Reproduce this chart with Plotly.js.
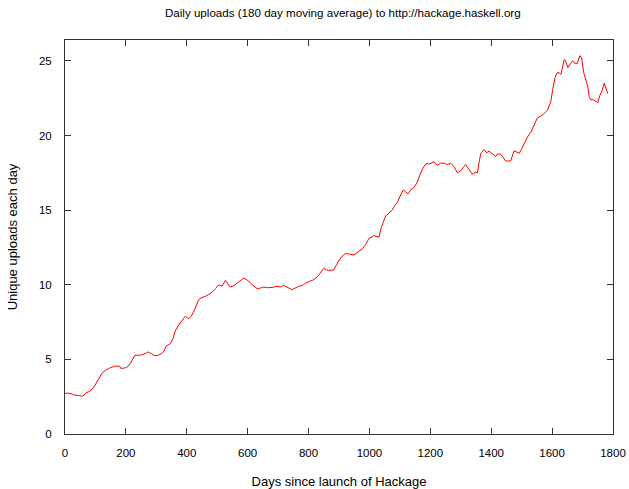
<!DOCTYPE html>
<html>
<head>
<meta charset="utf-8">
<script src="https://cdn.plot.ly/plotly-3.0.1.min.js"></script>
<style>html,body{margin:0;padding:0;background:#fff;}#chart{width:629px;height:489px;}</style>
</head>
<body>
<div id="chart"></div>
<script>
const days = [0,10,20,33,45,55,62,69,80,88,99,110,121,132,143,155,165,179,183,195,203,214,222,230,245,252,265,274,283,291,300,307,318,324,332,346,355,362,372,385,395,406,415,425,439,450,461,472,483,495,505,516,527,535,543,555,565,575,587,596,603,615,631,642,653,665,680,697,708,718,730,746,758,768,780,790,801,817,830,839,850,858,866,883,899,910,921,935,949,963,976,988,998,1008,1015,1031,1040,1053,1063,1075,1083,1091,1100,1111,1120,1127,1137,1146,1155,1163,1174,1185,1198,1212,1223,1234,1245,1256,1267,1278,1289,1300,1316,1328,1338,1348,1355,1360,1366,1376,1385,1393,1405,1415,1421,1431,1440,1448,1456,1464,1475,1483,1492,1500,1508,1519,1530,1541,1552,1562,1573,1585,1596,1602,1610,1616,1623,1629,1635,1640,1646,1652,1660,1667,1675,1682,1691,1697,1704,1710,1717,1722,1727,1735,1742,1750,1757,1764,1771,1776,1783];
const uploads = [2.72,2.74,2.70,2.60,2.58,2.54,2.60,2.76,2.85,2.99,3.28,3.70,4.06,4.25,4.39,4.48,4.55,4.55,4.40,4.42,4.46,4.72,5.05,5.28,5.28,5.30,5.40,5.50,5.38,5.28,5.25,5.28,5.40,5.50,5.88,6.06,6.40,6.90,7.25,7.60,7.89,7.73,7.90,8.30,9.00,9.15,9.22,9.35,9.50,9.75,10.0,9.90,10.3,10.05,9.85,9.95,10.10,10.25,10.45,10.35,10.25,10.0,9.74,9.78,9.85,9.80,9.82,9.90,9.85,9.96,9.85,9.67,9.80,9.90,9.95,10.10,10.20,10.34,10.55,10.80,11.10,11.0,10.96,11.0,11.6,11.9,12.1,12.05,12.0,12.2,12.4,12.7,13.1,13.2,13.3,13.2,13.9,14.6,14.8,15.0,15.3,15.5,15.9,16.35,16.2,16.1,16.4,16.5,16.8,17.2,17.75,18.1,18.1,18.25,18.0,18.15,18.15,18.05,18.15,17.9,17.5,17.65,18.05,17.7,17.4,17.55,17.5,18.2,18.8,19.05,18.85,18.95,18.75,18.6,18.76,18.75,18.5,18.27,18.3,18.3,18.98,18.9,18.8,19.1,19.4,19.9,20.2,20.7,21.2,21.3,21.45,21.7,22.3,23.1,23.9,24.2,24.2,24.1,24.6,25.1,24.9,24.55,24.8,25.0,24.85,24.8,25.35,25.2,24.2,23.8,23.3,22.6,22.4,22.4,22.3,22.2,22.7,23.0,23.5,23.2,22.8];
const xTicks = [0,200,400,600,800,1000,1200,1400,1600,1800];
const yTicks = [0,5,10,15,20,25];

const axisCommon = {
  showgrid: false, zeroline: false, showline: true, mirror: 'allticks',
  linecolor: '#333', linewidth: 1, ticks: 'inside', ticklen: 6, tickcolor: '#333', tickwidth: 1,
  tickfont: {family: 'Liberation Sans, Arial, sans-serif', size: 11.5, color: '#000'}
};

Plotly.newPlot('chart', [{
  x: days, y: uploads, type: 'scatter', mode: 'lines',
  line: {color: '#ff0000', width: 1}, hoverinfo: 'skip'
}], {
  width: 629, height: 489,
  margin: {l: 65, r: 16, t: 40, b: 55},
  paper_bgcolor: '#fff', plot_bgcolor: '#fff',
  showlegend: false,
  font: {family: 'Liberation Sans, Arial, sans-serif', size: 11, color: '#000'},
  title: {text: 'Daily uploads (180 day moving average) to http://hackage.haskell.org', x: 0.545, xanchor: 'center', y: 0.974, yanchor: 'middle', font: {size: 11.6, color: '#000'}},
  xaxis: Object.assign({}, axisCommon, {range: [0, 1800], tickvals: xTicks, ticktext: xTicks.map(String), ticklabelstandoff: 8,
    title: {text: 'Days since launch of Hackage', standoff: 22, font: {size: 13}}}),
  yaxis: Object.assign({}, axisCommon, {range: [0, 26.4], tickvals: yTicks, ticktext: yTicks.map(String), ticklabelstandoff: 10,
    title: {text: 'Unique uploads each day', standoff: 18, font: {size: 13}}})
}, {staticPlot: true});
</script>
</body>
</html>
